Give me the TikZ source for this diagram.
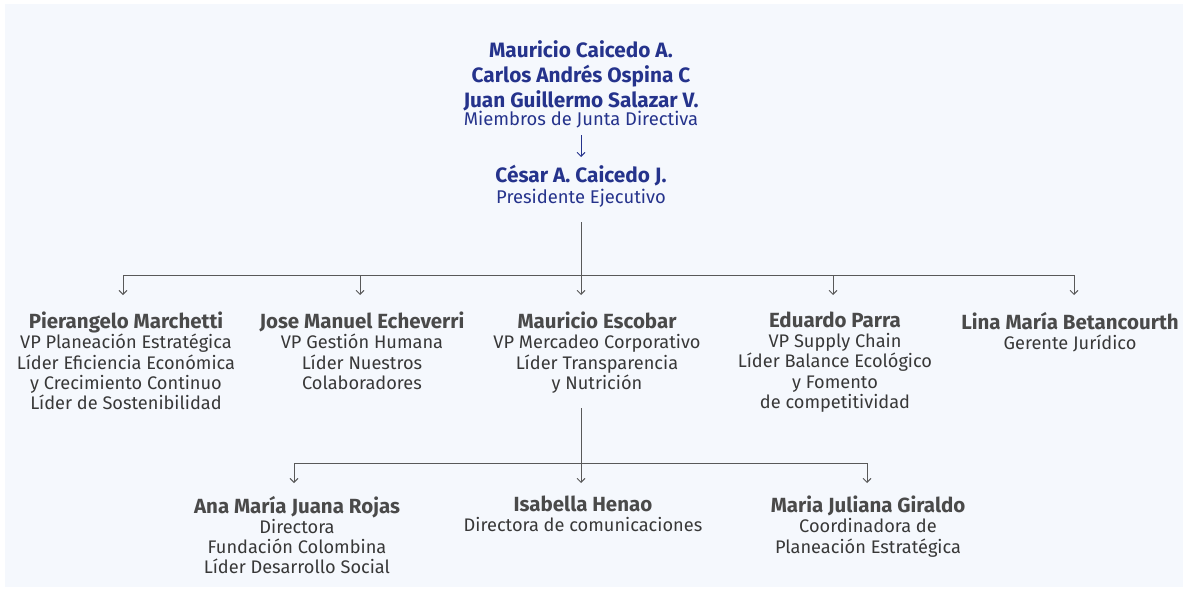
\documentclass[tikz,border=0pt]{standalone}
\usepackage{fontspec}
\setmainfont{Fira Sans}
\usetikzlibrary{arrows.meta}
\definecolor{bg}{HTML}{F5F8FD}
\definecolor{navy}{HTML}{25338C}
\definecolor{txt}{HTML}{383838}
\definecolor{nmc}{HTML}{4A4A4A}
\definecolor{ln}{HTML}{595959}
\newcommand\pname[1]{{\fontsize{20.5}{20.1}\selectfont\bfseries\color{nmc}#1}}
\begin{document}
\begin{tikzpicture}[x=1pt,y=-1pt,
  person/.style={align=center, inner sep=0pt, anchor=north, text=txt,
    font=\fontsize{18.2}{20.1}\selectfont},
  conn/.style={draw=ln, line width=0.9pt},
  arr/.style={draw=ln, line width=0.9pt, -{Straight Barb[length=4pt,width=8pt]}},
  navyarr/.style={draw=navy, line width=0.9pt, -{Straight Barb[length=4pt,width=8pt]}}]
\useasboundingbox (0,0) rectangle (1185,589);
\fill[white] (0,0) rectangle (1185,589);
\fill[bg] (5,4) rectangle (1183,587);

% top block
\node[align=center, inner sep=0pt, anchor=north, text=navy,
  font=\fontsize{20.8}{25}\selectfont\bfseries] (board) at (581,40)
  {Mauricio Caicedo A.\\ Carlos Andrés Ospina C\\ Juan Guillermo Salazar V.\\[-6.5pt]
   {\mdseries\fontsize{18.4}{19}\selectfont Miembros de Junta Directiva}};
\node[align=center, inner sep=0pt, anchor=north, text=navy,
  font=\fontsize{20.8}{20.5}\selectfont\bfseries] (pres) at (581,165)
  {César A. Caicedo J.\\ {\mdseries\fontsize{18.4}{19}\selectfont Presidente Ejecutivo}};
\draw[navyarr] (board.south) ++(0,7) coordinate (ba) -- (ba |- pres.north) [shorten >=8pt];

% level 2
\node[person] (p1) at (126,312) {\pname{Pierangelo Marchetti}\\ VP Planeación Estratégica\\ Líder Eficiencia Económica\\ y Crecimiento Continuo\\ Líder de Sostenibilidad};
\node[person] (p2) at (362,312) {\pname{Jose Manuel Echeverri}\\ VP Gestión Humana\\ Líder Nuestros\\ Colaboradores};
\node[person] (p3) at (597,312) {\pname{Mauricio Escobar}\\ VP Mercadeo Corporativo\\ Líder Transparencia\\ y Nutrición};
\node[person] (p4) at (835,312) {\pname{Eduardo Parra}\\ VP Supply Chain\\ Líder Balance Ecológico\\ y Fomento\\ de competitividad};
\node[person] (p5) at (1070,312) {\pname{Lina María Betancourth}\\ Gerente Jurídico};

% level 3
\node[person] (q1) at (297,496) {\pname{Ana María Juana Rojas}\\ Directora\\ Fundación Colombina\\ Líder Desarrollo Social};
\node[person] (q2) at (583,496) {\pname{Isabella Henao}\\ Directora de comunicaciones};
\node[person] (q3) at (868,496) {\pname{Maria Juliana Giraldo}\\ Coordinadora de\\ Planeación Estratégica};

% bus 1
\coordinate (s1) at (581,222);
\coordinate (h0) at (581,275);
\coordinate (h1) at (123,275);
\coordinate (h2) at (360,275);
\coordinate (h4) at (833,275);
\coordinate (h5) at (1074,275);
\draw[conn] (s1) -- (h0);
\draw[conn] (h1) -- (h5);
\foreach \h/\p in {h1/p1,h2/p2,h0/p3,h4/p4,h5/p5}
  \draw[arr, shorten >=17pt] (\h) -- (\h |- \p.north);

% bus 2
\coordinate (s2) at (581,408);
\coordinate (g0) at (581,463);
\coordinate (g1) at (294,463);
\coordinate (g3) at (867,463);
\draw[conn] (s2) -- (g0);
\draw[conn] (g1) -- (g3);
\foreach \h/\p in {g1/q1,g0/q2,g3/q3}
  \draw[arr, shorten >=13pt] (\h) -- (\h |- \p.north);
\end{tikzpicture}
\end{document}
